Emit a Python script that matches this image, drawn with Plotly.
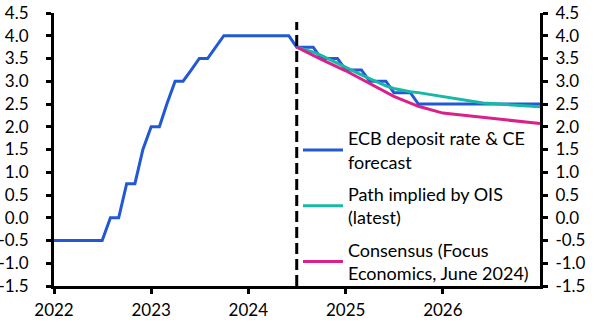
import plotly.graph_objects as go
import pandas as pd

# ECB deposit rate (monthly, history + CE forecast), Jan 2022 .. Jan 2027
ecb_dates = pd.date_range("2022-01-01", "2027-01-01", freq="MS")
ecb_values = (
    [-0.5] * 7 + [0.0, 0.0, 0.75, 0.75, 1.5]                     # 2022
    + [2.0, 2.0, 2.5, 3.0, 3.0, 3.25, 3.5, 3.5, 3.75, 4.0, 4.0, 4.0]  # 2023
    + [4.0] * 6 + [3.75, 3.75, 3.75, 3.5, 3.5, 3.5]               # 2024
    + [3.25, 3.25, 3.25, 3.0, 3.0, 3.0, 2.75, 2.75, 2.75, 2.5, 2.5, 2.5]  # 2025
    + [2.5] * 12                                                  # 2026
    + [2.5]                                                       # Jan 2027
)

# Path implied by OIS (monthly), Jul 2024 .. Jan 2027
ois_dates = pd.date_range("2024-07-01", "2027-01-01", freq="MS")
ois_values = [3.75, 3.70, 3.64, 3.57, 3.48, 3.40,
              3.30, 3.22, 3.14, 3.06, 2.98, 2.90, 2.84, 2.80, 2.77, 2.75, 2.72, 2.69,
              2.66, 2.63, 2.60, 2.57, 2.54, 2.52, 2.51, 2.50, 2.49, 2.48, 2.47, 2.45,
              2.44]

# Consensus (Focus Economics, June 2024)
cons_dates = ["2024-07-01", "2024-10-01", "2025-01-01", "2025-04-01", "2025-07-01",
              "2025-10-01", "2026-01-01", "2027-01-01"]
cons_values = [3.75, 3.48, 3.23, 2.95, 2.67, 2.45, 2.30, 2.07]

x_tick_vals = ["2022-01-01", "2023-01-01", "2024-01-01", "2025-01-01", "2026-01-01"]
x_tick_text = ["2022", "2023", "2024", "2025", "2026"]
y_tick_vals = [-1.5, -1.0, -0.5, 0.0, 0.5, 1.0, 1.5, 2.0, 2.5, 3.0, 3.5, 4.0, 4.5]
y_tick_text = ["-1.5", "-1.0", "-0.5", "0.0", "0.5", "1.0", "1.5", "2.0", "2.5",
               "3.0", "3.5", "4.0", "4.5"]

forecast_start = "2024-07-01"
dash_top = 4.3

names = ["ECB deposit rate & CE<br>forecast", "Path implied by OIS<br>(latest)",
         "Consensus (Focus<br>Economics, June 2024)"]
colors = ["#2358D4", "#17B8A6", "#DA2189"]

FONT = "Lato"
FS = 18
TFS = 17
fig = go.Figure()
fig.add_trace(go.Scatter(x=ecb_dates, y=ecb_values, mode="lines", name=names[0],
                         legendgroup="a", line=dict(color=colors[0], width=3)))
fig.add_trace(go.Scatter(x=ois_dates, y=ois_values, mode="lines", name=names[1],
                         legendgroup="b", line=dict(color=colors[1], width=3)))
fig.add_trace(go.Scatter(x=cons_dates, y=cons_values, mode="lines", name=names[2],
                         legendgroup="c", line=dict(color=colors[2], width=3)))
# invisible trace to activate the right-hand axis
fig.add_trace(go.Scatter(x=cons_dates[:1], y=cons_values[:1], yaxis="y2", mode="lines",
                         showlegend=False, hoverinfo="skip", line=dict(width=0)))

fig.add_shape(type="line", xref="x", yref="y", x0=forecast_start, x1=forecast_start,
              y0=-1.5, y1=dash_top, line=dict(color="black", width=3, dash="11px,5px"))

axis_common = dict(showgrid=False, zeroline=False, showline=True, linecolor="black",
                   linewidth=3, ticks="outside", ticklen=5, tickwidth=3,
                   tickcolor="black", automargin=False,
                   tickfont=dict(family=FONT, size=TFS, color="black"))

fig.update_layout(
    width=594, height=332,
    margin=dict(l=54, r=54, t=13, b=46),
    paper_bgcolor="white", plot_bgcolor="white",
    font=dict(family=FONT, size=FS, color="black"),
    showlegend=True,
    legend=dict(x=0.502, y=0.608, xanchor="left", yanchor="top", bgcolor="rgba(0,0,0,0)",
                font=dict(family=FONT, size=FS, color="black"), itemwidth=40,
                tracegroupgap=6),
    xaxis=dict(range=["2022-01-01", "2027-01-01"], type="date",
               tickvals=x_tick_vals, ticktext=x_tick_text, ticklabelstandoff=2,
               **axis_common),
    yaxis=dict(range=[-1.5, 4.5], tickvals=y_tick_vals, ticktext=y_tick_text,
               ticklabelstandoff=14, **axis_common),
    yaxis2=dict(range=[-1.5, 4.5], tickvals=y_tick_vals, ticktext=y_tick_text,
                overlaying="y", side="right", ticklabelstandoff=4, **axis_common),
)

fig.write_html("out.html")
